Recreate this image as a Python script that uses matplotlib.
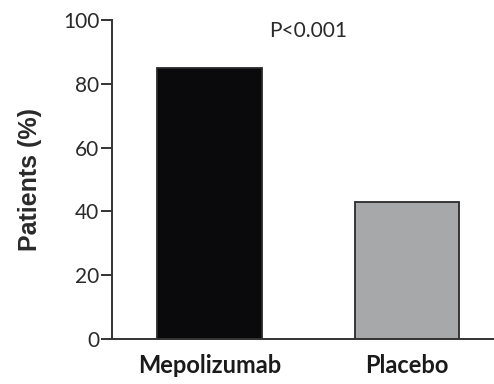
import matplotlib.pyplot as plt

groups = ['Mepolizumab', 'Placebo']
patients_pct = [85, 43]
bar_colors = ['#0a0a0c', '#a7a8aa']
p_label = 'P<0.001'

plt.rcParams['font.family'] = ['Lato', 'DejaVu Sans']

fig = plt.figure(figsize=(4.94, 3.84), dpi=100)
ax = fig.add_axes([0.2267, 0.117, 0.7733, 0.8307])

x = range(len(groups))
ax.bar(x, patients_pct, width=0.53, color=bar_colors, edgecolor='#2a2a2a', linewidth=1.3)

ax.set_xlim(-0.494, 1.44)
ax.set_ylim(0, 100)
ax.set_yticks(range(0, 101, 20))
ax.set_xticks(list(x))
ax.set_xticklabels(groups, fontsize=17, fontweight='bold', color='#1a1a1a')

for side in ['top', 'right']:
    ax.spines[side].set_visible(False)
for side in ['left', 'bottom']:
    ax.spines[side].set_linewidth(1.4)
    ax.spines[side].set_color('#333333')

ax.tick_params(axis='y', length=8, width=1.4, color='#333333', labelsize=15,
               labelcolor='#2a2a2a', pad=1)
ax.tick_params(axis='x', length=0, pad=11)

ax.set_ylabel('Patients (%)', fontsize=18, fontweight='bold', color='#2a2a2a',
              labelpad=15, family='Liberation Sans')

ax.text(0.5, 96.5, p_label, ha='center', va='center', fontsize=15, color='#2a2a2a')

fig.savefig('out.png', dpi=100)
